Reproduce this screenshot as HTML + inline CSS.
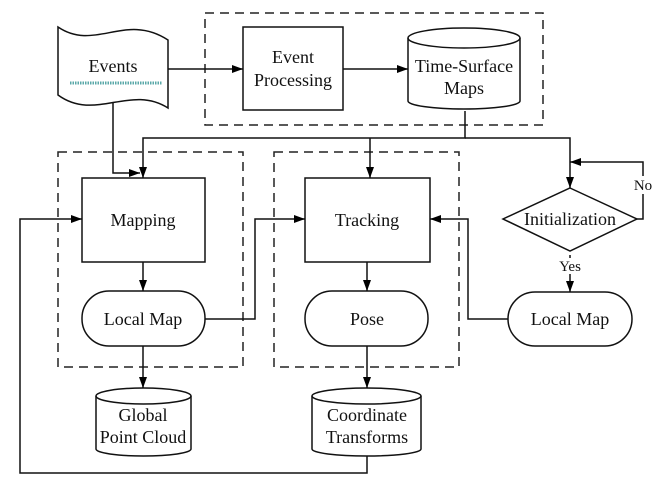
<!DOCTYPE html>
<html><head><meta charset="utf-8"><style>body{margin:0;background:#fff}svg{display:block}text{font-family:"Liberation Serif",serif;font-size:18px;fill:#111}</style></head>
<body>
<svg width="666" height="489" viewBox="0 0 666 489" xmlns="http://www.w3.org/2000/svg">
<defs><marker id="a" markerWidth="11" markerHeight="8" refX="11" refY="4" orient="auto" markerUnits="userSpaceOnUse"><path d="M0,0 L11,4 L0,8 Z" fill="#000"/></marker></defs>
<g fill="none" stroke="#222" stroke-width="1.5" stroke-dasharray="9,6">
<rect x="205" y="13" width="338" height="112"/>
<rect x="58" y="152" width="185" height="215"/>
<rect x="274" y="152" width="185" height="215"/>
</g>
<g fill="#fff" stroke="#111" stroke-width="1.5">
<path d="M58,27 C95,52 125,12 168,40 L168,108 C130,84 95,122 58,95 Z"/>
<rect x="243" y="27" width="100" height="83"/>
<path d="M408,38 A56,10 0 0 1 520,38 L520,101 A56,8 0 0 1 408,101 Z"/>
<path d="M408,38 A56,10 0 0 0 520,38" fill="none"/>
<rect x="82" y="178" width="123" height="84"/>
<rect x="305" y="178" width="125" height="84"/>
<rect x="82" y="291" width="123" height="55" rx="27"/>
<rect x="305" y="291" width="123" height="55" rx="27"/>
<rect x="508" y="292" width="124" height="54" rx="27"/>
<path d="M570,188 L637,219 L570,251 L503,219 Z"/>
<path d="M96,396 A47.5,8 0 0 1 191,396 L191,449 A47.5,7 0 0 1 96,449 Z"/>
<path d="M96,396 A47.5,8 0 0 0 191,396" fill="none"/>
<path d="M312,396 A54.5,8 0 0 1 421,396 L421,449 A54.5,7 0 0 1 312,449 Z"/>
<path d="M312,396 A54.5,8 0 0 0 421,396" fill="none"/>
</g>
<line x1="70" y1="83" x2="162" y2="83" stroke="#5aa8a8" stroke-width="3" stroke-dasharray="1.5,1"/>
<g fill="none" stroke="#111" stroke-width="1.5" marker-end="url(#a)">
<path d="M168,69 H243"/>
<path d="M343,69 H408"/>
<path d="M113,103 V173 H140"/>
<path d="M465,111 V138 H143 V178"/>
<path d="M370,138 V178"/>
<path d="M465,138 H570 V188"/>
<path d="M637,219 H643 V162 H570"/>
<path d="M570,255 V292"/>
<path d="M143,262 V291"/>
<path d="M143,346 V388"/>
<path d="M367,262 V291"/>
<path d="M367,346 V388"/>
<path d="M205,319 H255 V219 H305"/>
<path d="M508,319 H468 V219 H430"/>
<path d="M367,456 V473 H20 V219 H82"/>
</g>
<rect x="556" y="258" width="28" height="16" fill="#fff"/>
<rect x="632" y="176" width="22" height="18" fill="#fff"/>
<g text-anchor="middle">
<text x="113" y="72">Events</text>
<text x="293" y="63">Event</text>
<text x="293" y="86">Processing</text>
<text x="464" y="72">Time-Surface</text>
<text x="464" y="94">Maps</text>
<text x="143" y="226">Mapping</text>
<text x="367" y="226">Tracking</text>
<text x="143" y="325">Local Map</text>
<text x="367" y="325">Pose</text>
<text x="570" y="325">Local Map</text>
<text x="570" y="225">Initialization</text>
<text x="570" y="271" style="font-size:15px">Yes</text>
<text x="643" y="190" style="font-size:15px">No</text>
<text x="143" y="421">Global</text>
<text x="143" y="443">Point Cloud</text>
<text x="367" y="421">Coordinate</text>
<text x="367" y="443">Transforms</text>
</g>
</svg>
</body></html>
